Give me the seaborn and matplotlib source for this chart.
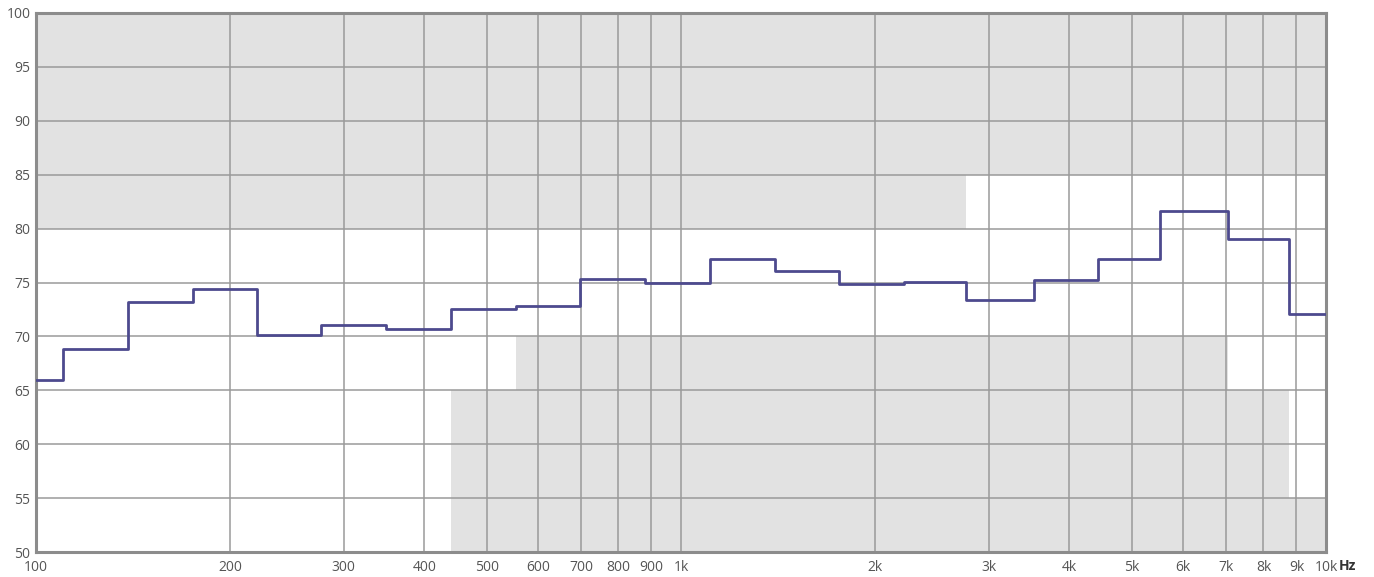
import matplotlib
matplotlib.use("Agg")
import matplotlib.pyplot as plt
import seaborn as sns
import pandas as pd
import numpy as np

# Band edges (Hz), third-octave steps
edges = [100, 110, 139, 175, 220, 277, 349, 440, 554, 698, 880, 1109,
         1397, 1760, 2217, 2767, 3520, 4435, 5530, 7040, 8770, 10000]
# Level per band (dB)
levels = [66.0, 68.8, 73.2, 74.4, 70.1, 71.05, 70.65, 72.5, 72.85, 75.3, 74.95,
          77.2, 76.1, 74.85, 75.05, 73.4, 75.2, 77.2, 81.6, 79.05, 72.1]

# Upper shaded limit region
top_edges = [100, 2767, 10000]
top_lower = [80, 85, 85]
# Lower shaded limit region
bottom_edges = [440, 554, 7040, 8770, 10000]
bottom_upper = [65, 70, 65, 55, 55]

xticks = [100, 200, 300, 400, 500, 600, 700, 800, 900, 1000,
          2000, 3000, 4000, 5000, 6000, 7000, 8000, 9000, 10000]
xticklabels = ["100", "200", "300", "400", "500", "600", "700", "800", "900", "1k",
               "2k", "3k", "4k", "5k", "6k", "7k", "8k", "9k", "10k"]
yticks = [50, 55, 60, 65, 70, 75, 80, 85, 90, 95, 100]

sns.set_theme(style="white")
plt.rcParams['font.family'] = ['Open Sans', 'DejaVu Sans']

fig = plt.figure(figsize=(13.74, 5.77), dpi=100)
ax = fig.add_axes([36/1374, 25/577, 1290/1374, 539/577])

fill_col = "#e2e2e2"
ax.fill_between(top_edges, top_lower, 100, step="post", color=fill_col, lw=0, zorder=0.2)
ax.fill_between(bottom_edges, 50, bottom_upper, step="post", color=fill_col, lw=0, zorder=0.2)

df = pd.DataFrame({"freq": edges, "level": levels + [levels[-1]]})
sns.lineplot(data=df, x="freq", y="level", drawstyle="steps-post",
             color="#4d4a8e", linewidth=2.0, ax=ax, zorder=3, sort=False)

ax.set_xscale("log")
ax.set_xlim(100, 10000)
ax.set_ylim(50, 100)
ax.set_xticks(xticks)
ax.set_xticklabels(xticklabels)
ax.xaxis.set_minor_locator(matplotlib.ticker.NullLocator())
ax.set_yticks(yticks)
ax.set_yticklabels([str(v) for v in yticks])
ax.set_axisbelow(True)
ax.grid(True, which="major", color="#9a9a9a", linewidth=1.1)
ax.tick_params(axis="both", length=0, labelsize=10, labelcolor="#555555")
ax.tick_params(axis="x", pad=6)
ax.tick_params(axis="y", pad=4)
ax.set_xlabel("")
ax.set_ylabel("")
for s in ax.spines.values():
    s.set_color("#8c8c8c")
    s.set_linewidth(2.2)
ax.text(1.017, -0.026, "Hz", transform=ax.transAxes, ha="center", va="center",
        fontsize=10, fontweight="bold", color="#333333")

fig.savefig("out.png", dpi=100)
